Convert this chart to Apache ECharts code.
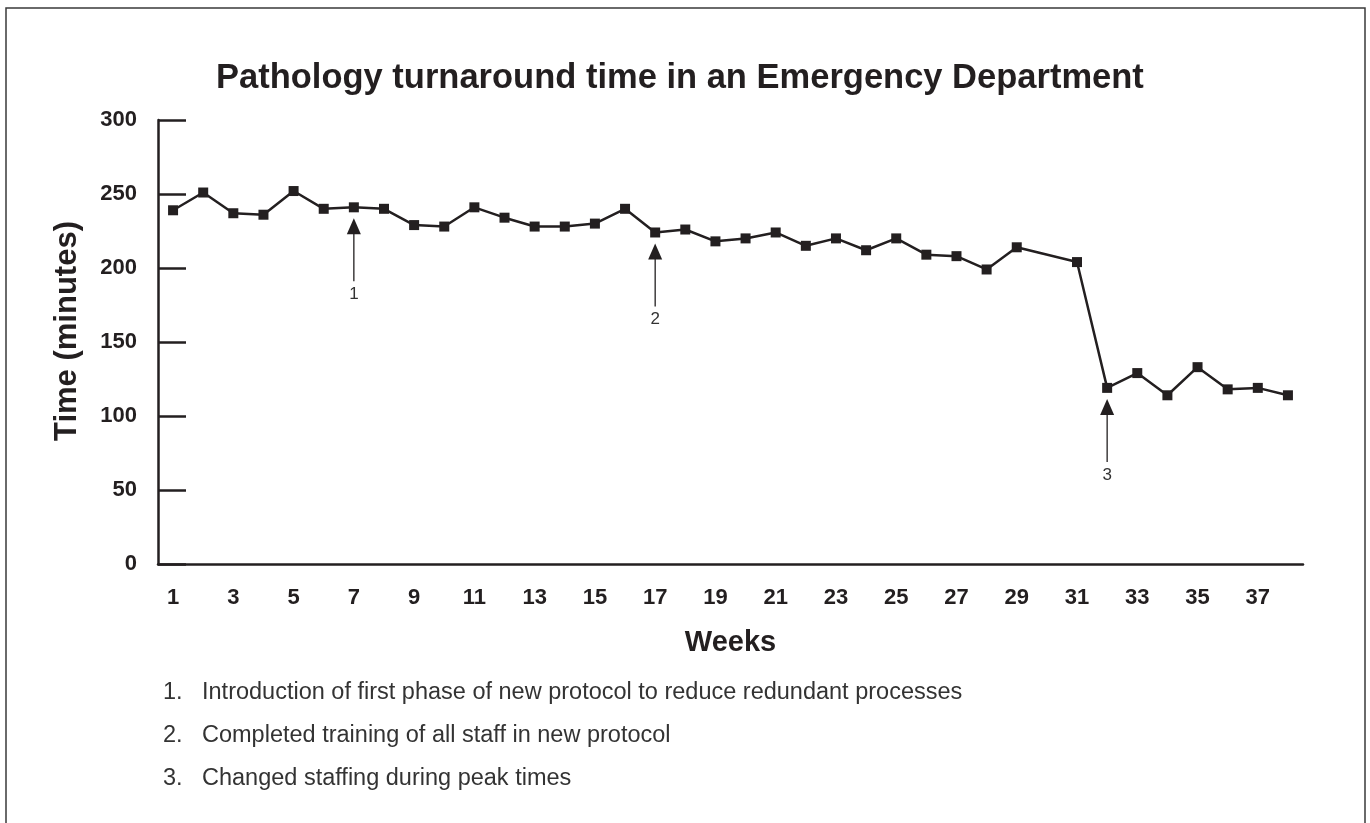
<!DOCTYPE html>
<html>
<head>
<meta charset="utf-8">
<script src="https://cdn.jsdelivr.net/npm/echarts@6/dist/echarts.min.js"></script>
<style>
html,body{margin:0;padding:0;background:#fff;}
#chart{width:1370px;height:823px;}
</style>
</head>
<body>
<div id="chart"></div>
<script>
// ---- data ----
const weeks = ['1','2','3','4','5','6','7','8','9','10','11','12','13','14','15','16','17','18','19','20','21','22','23','24','25','26','27','28','29','30','31','32','33','34','35','36','37','38'];
const turnaround = [239,251,237,236,252,240,241,240,229,228,241,234,228,228,230,240,224,226,218,220,224,215,220,212,220,209,208,199,214,null,204,119,129,114,133,118,119,114];
const yTicks = [0,50,100,150,200,250,300];
const annotWeeks = ['7','17','32'];
const annotLabels = ['1','2','3'];
const footnotes = [
  'Introduction of first phase of new protocol to reduce redundant processes',
  'Completed training of all staff in new protocol',
  'Changed staffing during peak times'
];
const titleText = 'Pathology turnaround time in an Emergency Department';

const INK = '#231f20';
const FONT = '"Liberation Sans", Arial, Helvetica, sans-serif';

const annotData = annotWeeks.map((w, i) => [weeks.indexOf(w), turnaround[weeks.indexOf(w)], annotLabels[i]]);

const chart = echarts.init(document.getElementById('chart'));

const graphics = [
  { type: 'rect', shape: { x: 6, y: 8, width: 1359, height: 830 }, style: { fill: 'none', stroke: '#3a3a3a', lineWidth: 1.5 }, silent: true }
];
footnotes.forEach((t, i) => {
  graphics.push({ type: 'text', left: 163, top: 681 + i * 43, style: { text: (i + 1) + '.', font: '23.5px ' + FONT, fill: '#333' } });
  graphics.push({ type: 'text', left: 202, top: 681 + i * 43, style: { text: t, font: '23.5px ' + FONT, fill: '#333' } });
});

chart.setOption({
  backgroundColor: '#fff',
  animation: false,
  title: {
    text: titleText,
    left: 211,
    top: 56,
    textStyle: { fontFamily: FONT, fontWeight: 'bold', fontSize: 34.5, color: INK }
  },
  grid: { left: 158, right: 67, top: 120, bottom: 259 },
  xAxis: {
    type: 'category',
    data: weeks,
    boundaryGap: true,
    name: 'Weeks',
    nameLocation: 'middle',
    nameGap: 64,
    nameTextStyle: { fontFamily: FONT, fontWeight: 'bold', fontSize: 29, color: INK },
    axisLine: { lineStyle: { color: INK, width: 2.5 } },
    axisTick: { inside: true, length: 14, interval: 0, lineStyle: { color: INK, width: 2.5 } },
    axisLabel: { interval: 1, margin: 23, fontFamily: FONT, fontWeight: 'bold', fontSize: 22, color: INK },
    splitLine: { show: false }
  },
  yAxis: {
    type: 'value',
    min: yTicks[0],
    max: yTicks[yTicks.length - 1],
    interval: yTicks[1] - yTicks[0],
    name: 'Time (minutes)',
    nameLocation: 'middle',
    nameGap: 75,
    nameTextStyle: { fontFamily: FONT, fontWeight: 'bold', fontSize: 31, color: INK, padding: [0, 0, 0, 22] },
    axisLine: { show: true, lineStyle: { color: INK, width: 2.5 } },
    axisTick: { show: true, inside: true, length: 28, lineStyle: { color: INK, width: 2.5 } },
    axisLabel: { margin: 21, fontFamily: FONT, fontWeight: 'bold', fontSize: 22, color: INK },
    splitLine: { show: false }
  },
  series: [
    {
      type: 'line',
      data: turnaround,
      connectNulls: true,
      symbol: 'rect',
      symbolSize: 10,
      lineStyle: { color: INK, width: 2.5 },
      itemStyle: { color: INK },
      z: 3
    },
    {
      type: 'custom',
      data: annotData,
      z: 4,
      renderItem: function (params, api) {
        const p = api.coord([api.value(0), api.value(1)]);
        const x = p[0], y = p[1];
        const label = annotData[params.dataIndex][2];
        return {
          type: 'group',
          children: [
            { type: 'polygon', shape: { points: [[x, y + 11], [x - 7, y + 27], [x + 7, y + 27]] }, style: { fill: INK } },
            { type: 'line', shape: { x1: x, y1: y + 25, x2: x, y2: y + 74 }, style: { stroke: INK, lineWidth: 1.3 } },
            { type: 'text', style: { text: label, x: x, y: y + 87, textAlign: 'center', textVerticalAlign: 'middle', font: '17px ' + FONT, fill: '#333' } }
          ]
        };
      }
    }
  ],
  graphic: graphics
});
</script>
</body>
</html>
